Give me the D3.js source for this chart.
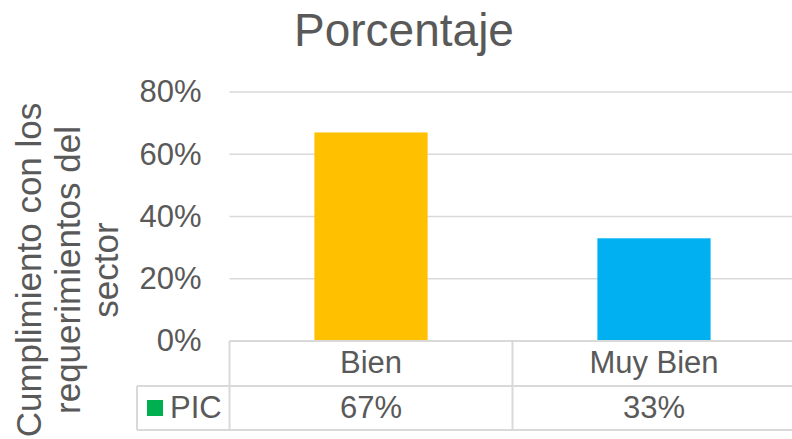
<!DOCTYPE html>
<html>
<head>
<meta charset="utf-8">
<script src="https://cdn.jsdelivr.net/npm/d3@7"></script>
<style>
  body { margin: 0; background: #fff; }
  text { font-family: "Liberation Sans", Arial, sans-serif; fill: #595959; }
</style>
</head>
<body>
<svg id="chart" width="792" height="439"></svg>
<script>
// chart data
var categories = ['Bien', 'Muy Bien'];
var values = [0.67, 0.33];
var valueLabels = ['67%', '33%'];
var barColors = ['#FFC000', '#00B0F0'];
var seriesName = 'PIC';
var yTicks = [0, 0.2, 0.4, 0.6, 0.8];
var axisTitle = ['Cumplimiento con los', 'requerimientos del', 'sector'];

var svg = d3.select('#chart');
var grid = '#d9d9d9';

var x = d3.scaleBand().domain(categories).range([229.5, 795.5]).paddingInner(0.6).paddingOuter(0.3);
var y = d3.scaleLinear().domain([0, 0.8]).range([341, 92]);

// title
svg.append('text').attr('x', 404).attr('y', 46).attr('text-anchor', 'middle')
   .style('font-size', '46px').text('Porcentaje');

// gridlines
svg.selectAll('.grid').data(yTicks.filter(function(d){ return d > 0; }))
   .enter().append('line').attr('class', 'grid')
   .attr('x1', 229.5).attr('x2', 792)
   .attr('y1', function(d){ return y(d); }).attr('y2', function(d){ return y(d); })
   .style('stroke', grid).style('stroke-width', 1.5);

// y axis labels
var yAxis = d3.axisLeft(y).tickValues(yTicks).tickFormat(d3.format('.0%')).tickSize(0).tickPadding(28);
var ya = svg.append('g').attr('transform', 'translate(229.5,0)').call(yAxis);
ya.select('.domain').remove();
ya.selectAll('text').style('font-size', '31px').style('fill', '#595959')
  .style('font-family', '"Liberation Sans", Arial, sans-serif');

// bars
svg.selectAll('.bar').data(values).enter().append('rect').attr('class', 'bar')
   .attr('x', function(d, i){ return x(categories[i]); })
   .attr('width', x.bandwidth())
   .attr('y', function(d){ return y(d); })
   .attr('height', function(d){ return y(0) - y(d); })
   .style('fill', function(d, i){ return barColors[i]; });

// axis title
var at = svg.append('text').attr('transform', 'translate(41,270) rotate(-90)')
   .attr('text-anchor', 'middle').style('font-size', '35px');
at.selectAll('tspan').data(axisTitle).enter().append('tspan')
  .attr('x', 0).attr('y', function(d, i){ return i * 38.5; }).text(function(d){ return d; });

// data table
var rowTop = 341, rowMid = 386, rowBot = 430, legLeft = 137;
var left = x.range()[0];
var tl = svg.append('g').style('stroke', grid).style('stroke-width', 2);
tl.append('line').attr('x1', left).attr('x2', 792).attr('y1', rowTop).attr('y2', rowTop);
tl.append('line').attr('x1', legLeft).attr('x2', 792).attr('y1', rowMid).attr('y2', rowMid);
tl.append('line').attr('x1', legLeft).attr('x2', 792).attr('y1', rowBot).attr('y2', rowBot);
tl.append('line').attr('x1', legLeft).attr('x2', legLeft).attr('y1', rowMid).attr('y2', rowBot);
tl.selectAll('.vl').data(categories).enter().append('line').attr('class', 'vl')
  .attr('x1', function(d){ return x(d) - x.step() * x.paddingInner() / 2; })
  .attr('x2', function(d){ return x(d) - x.step() * x.paddingInner() / 2; })
  .attr('y1', rowTop).attr('y2', rowBot);

svg.selectAll('.cat').data(categories).enter().append('text').attr('class', 'cat')
   .attr('x', function(d){ return x(d) + x.bandwidth() / 2; }).attr('y', 373)
   .attr('text-anchor', 'middle').style('font-size', '31px').text(function(d){ return d; });
svg.selectAll('.val').data(valueLabels).enter().append('text').attr('class', 'val')
   .attr('x', function(d, i){ return x(categories[i]) + x.bandwidth() / 2; }).attr('y', 418)
   .attr('text-anchor', 'middle').style('font-size', '31px').text(function(d){ return d; });

// legend key
svg.append('rect').attr('x', 147).attr('y', 400).attr('width', 16).attr('height', 16).style('fill', '#00B050');
svg.append('text').attr('x', 170).attr('y', 418).style('font-size', '31px').text(seriesName);
</script>
</body>
</html>
